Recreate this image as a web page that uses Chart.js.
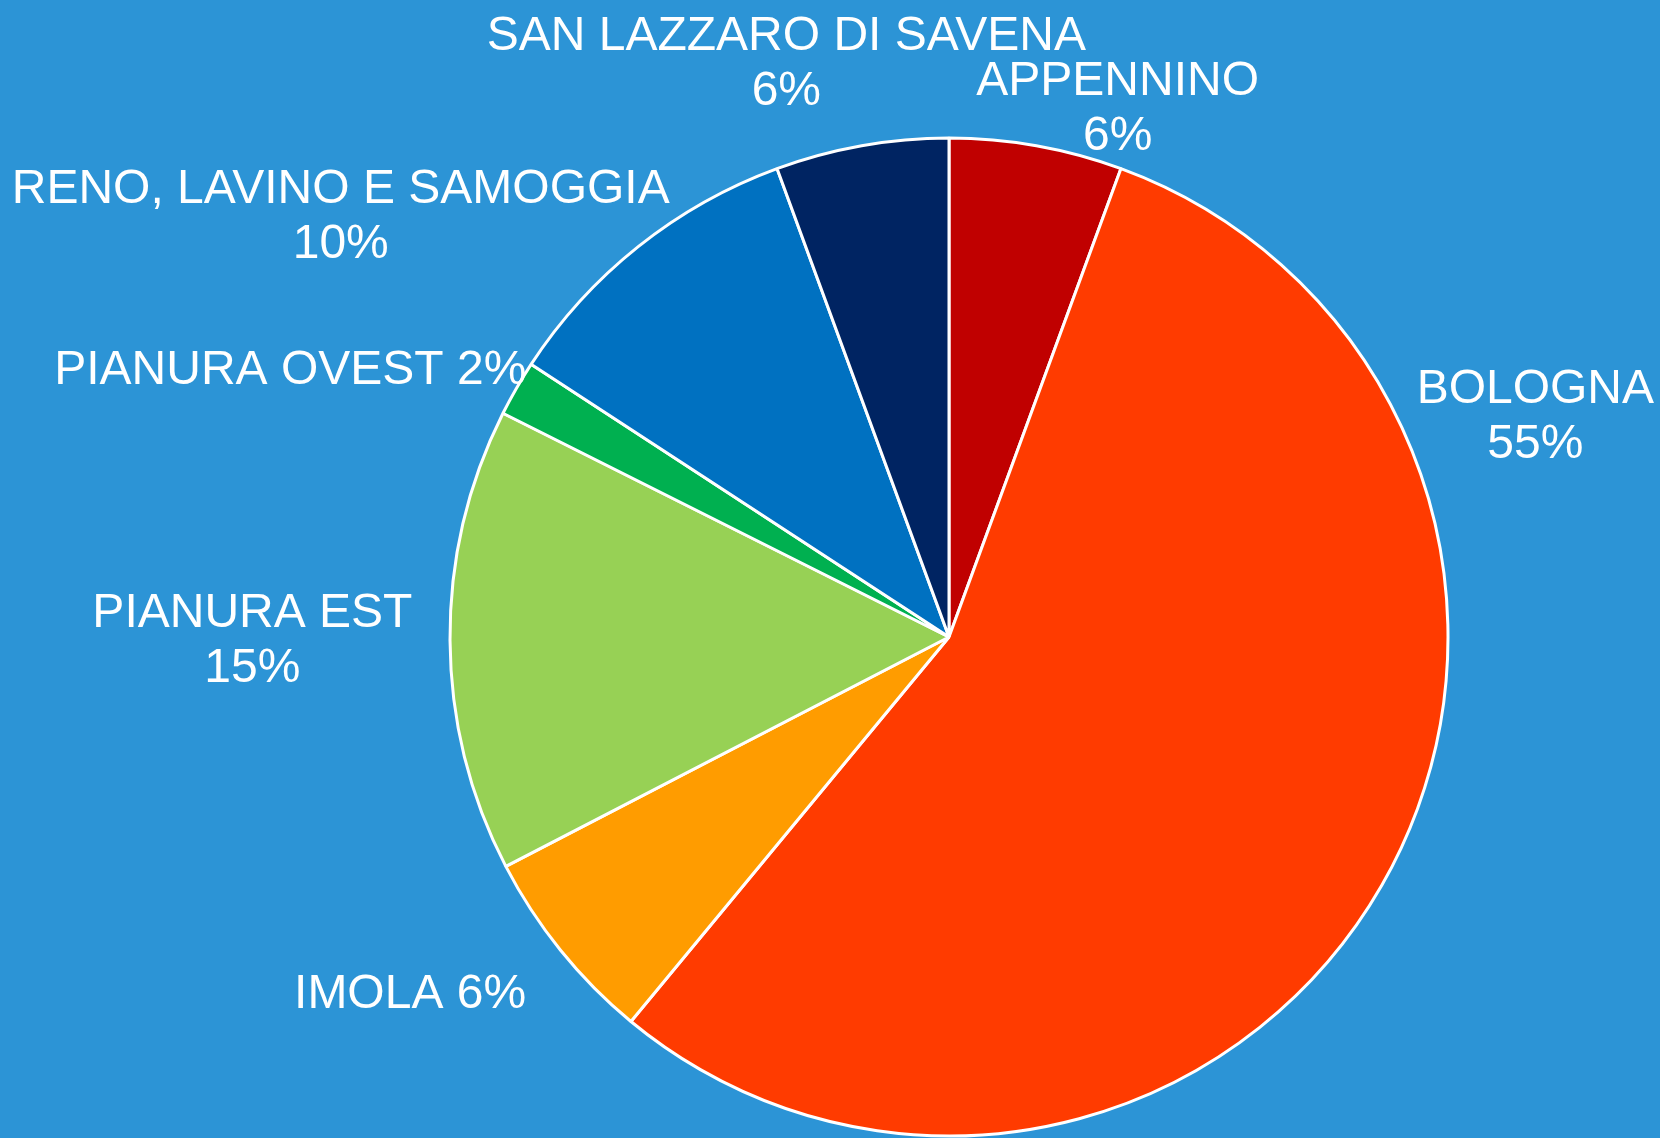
<!DOCTYPE html>
<html>
<head>
<meta charset="utf-8">
<script src="https://cdn.jsdelivr.net/npm/chart.js@4.4.1/dist/chart.umd.min.js"></script>
<style>
body{margin:0;background:#2C94D6;}
canvas{display:block;}
</style>
</head>
<body>
<canvas id="grafico" width="1660" height="1138"></canvas>
<script>

// distretti e quota percentuale
let distretti = ["APPENNINO","BOLOGNA","IMOLA","PIANURA EST","PIANURA OVEST","RENO, LAVINO E SAMOGGIA","SAN LAZZARO DI SAVENA"]
let quote = [5.6, 55.4, 6.4, 15.0, 1.8, 10.2, 5.6]

let colori = ["#C00000","#FF3B00","#FF9C00","#97D155","#00B050","#0071C1","#002462"]

// posizione etichette in unita' di raggio rispetto al centro della torta
let posEtichette = [
{x:0.338, y:-1.066, riga:false},
{x:1.175, y:-0.449, riga:false},
{x:-1.080, y:0.708, riga:true},
{x:-1.396, y:0.0, riga:false},
{x:-1.320, y:-0.541, riga:true},
{x:-1.219, y:-0.849, riga:false},
{x:-0.326, y:-1.155, riga:false}
]

let etichette = {
id:"etichette",
afterDraw(chart){
let ctx = chart.ctx
let arco = chart.getDatasetMeta(0).data[0]
let cx = arco.x, cy = arco.y, r = arco.outerRadius
ctx.save()
ctx.fillStyle = "#ffffff"
ctx.font = "48px 'Liberation Sans', Arial, sans-serif"
ctx.textAlign = "center"
ctx.textBaseline = "middle"
let lh = 55
distretti.forEach((nome,i)=>{
let p = posEtichette[i]
let x = cx + p.x*r
let y = cy + p.y*r + 4
let perc = Math.round(quote[i]) + "%"
if(p.riga){
ctx.fillText(nome + " " + perc, x, y)
}else{
ctx.fillText(nome, x, y - lh/2)
ctx.fillText(perc, x, y + lh/2)
}
})
ctx.restore()
}
}

let sfondo = {
id:"sfondo",
beforeDraw(chart){
let ctx = chart.ctx
ctx.save()
ctx.fillStyle = "#2C94D6"
ctx.fillRect(0,0,chart.width,chart.height)
ctx.restore()
}
}

let ctx = document.getElementById("grafico").getContext("2d")

let grafico = new Chart(ctx, {
type:"pie",
data:{
labels:distretti,
datasets:[{
data:quote,
backgroundColor:colori,
borderColor:"#ffffff",
borderWidth:3,
radius:499
}]
},
options:{
responsive:false,
animation:false,
layout:{padding:{left:238,right:0,top:136,bottom:0}},
plugins:{
legend:{display:false},
tooltip:{enabled:false}
}
},
plugins:[sfondo,etichette]
})

</script>
</body>
</html>
